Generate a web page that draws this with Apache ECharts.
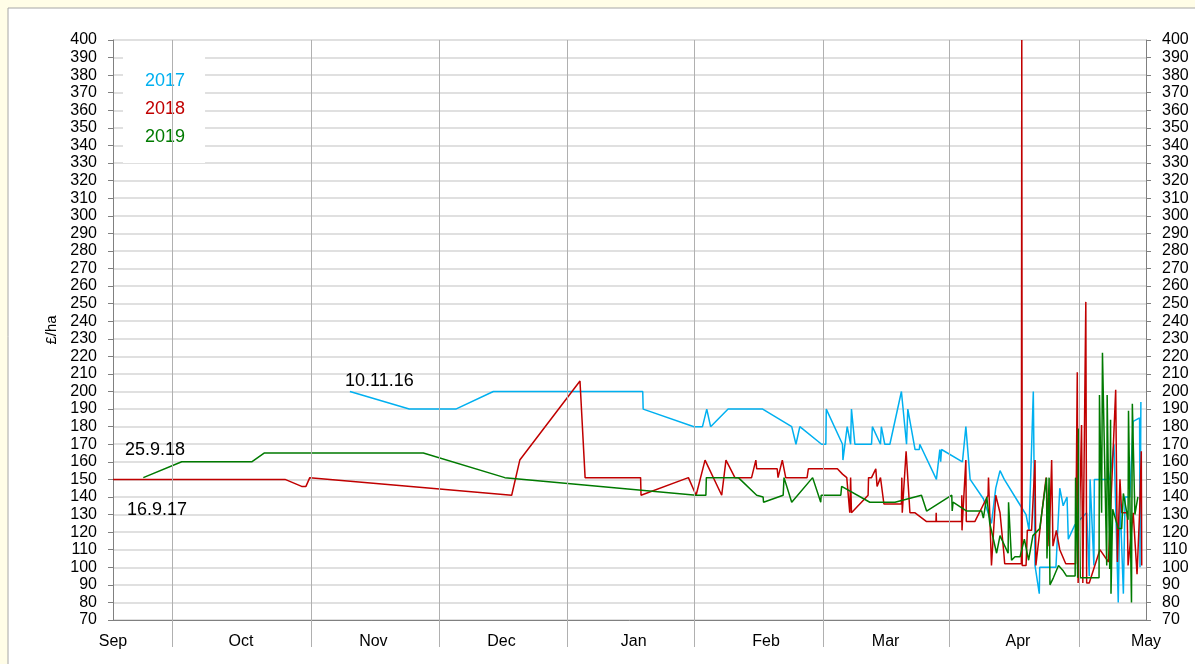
<!DOCTYPE html>
<html><head><meta charset="utf-8">
<script src="https://cdn.jsdelivr.net/npm/echarts@6/dist/echarts.min.js"></script>
<style>html,body{margin:0;padding:0;background:#fffde7}#c{width:1195px;height:664px}</style>
</head><body><div id="c"></div>
<script>
// x = days since 1 September, y = £/ha
const monthNames = ['Sep','Oct','Nov','Dec','Jan','Feb','Mar','Apr','May'];
const monthStartDays = [0,30,61,91,122,153,181,212,242];
const gridDays = [13.8,46.5,76.5,106.3,136.1,166.3,195.8,226.3];
const seriesNames = ['2017','2018','2019'];
const annotations = ['10.11.16','25.9.18','16.9.17'];

const data2017 = [[55.5,200],[69.4,190],[80.3,190],[89.1,200],[124.1,200],[124.2,190],[136.1,180],[138.1,180],[139.1,190],[140.0,180],[144.1,190],[152.2,190],[159.0,180],[160.0,170],[160.9,180],[166.0,170],[167.0,170],[167.1,190],[170.9,170],[171.0,161],[172.0,180],[172.8,170],[173.0,190],[173.8,170],[177.7,170],[177.9,180],[179.8,170],[180.0,180],[180.8,170],[182.0,170],[184.7,200],[185.9,170],[186.2,190],[187.9,167],[188.9,167],[189.0,170],[192.9,150],[193.7,167],[193.9,160],[194.1,167],[199.0,160],[199.8,180],[200.8,150],[203.9,139],[205.0,131],[205.8,125],[206.8,145],[207.8,155],[208.8,150],[212.1,137],[213.9,130],[214.6,121],[215.6,200],[216.0,101],[217.0,85],[217.1,100],[220.9,100],[221.8,145],[222.6,135],[223.5,140],[223.8,116],[225.3,124],[226.5,127],[228.1,131],[228.7,95],[228.9,150],[229.8,101],[229.9,150],[233.5,150],[234.5,170],[235.5,80],[235.9,140],[236.7,85],[237.1,140],[238.2,140],[239.0,183],[240.5,185],[240.6,100],[240.8,194]];

const data2018 = [[0,150],[40.3,150],[44.2,146],[45.2,146],[46.1,151],[93.4,141],[95.3,161],[109.4,206],[110.6,151],[123.6,151],[123.7,141],[134.8,151],[136.6,141],[138.7,161],[142.6,141],[143.6,161],[145.7,151],[149.6,151],[150.6,161],[150.8,156],[155.6,156],[155.8,151],[156.8,161],[157.6,151],[162.6,151],[162.9,156],[169.7,156],[170.9,153],[171.9,151],[172.6,131],[172.8,151],[173.0,131],[176.9,141],[177.0,151],[177.7,151],[178.7,156],[179.0,146],[179.8,151],[180.6,136],[184.7,136],[184.8,151],[184.9,131],[185.8,166],[186.7,131],[187.9,131],[190.6,126],[192.8,126],[192.85,131],[192.9,126],[198.8,126],[198.85,141],[198.9,121],[199.0,126],[199.8,161],[199.9,126],[201.9,126],[205.0,141],[205.1,151],[205.8,101],[206.8,141],[207.8,131],[208.7,108],[208.9,102],[211.8,102],[212.8,102],[212.9,400],[213.0,101],[213.9,101],[214.2,121],[215.2,121],[216.0,161],[216.2,101],[217.6,131],[218.6,151],[219.3,112],[219.9,161],[220.2,112],[221.0,121],[221.8,110],[223.2,102],[225.5,102],[225.9,211],[226.1,91],[226.9,181],[227.2,91],[227.9,251],[228.1,91],[228.7,91],[231.2,110],[233.2,103],[234.9,201],[235.3,103],[235.9,150],[236.3,131],[237.6,131],[237.8,101],[239.0,131],[239.9,96],[240.5,131],[240.9,166],[241.0,101]];

const data2019 = [[7.1,151],[16.1,160],[32.5,160],[35.4,165],[72.7,165],[91.8,151],[136.6,141],[138.9,141],[139.0,151],[146.5,151],[150.8,141],[152.3,140],[152.4,137],[157.0,141],[157.2,151],[159.0,137],[163.9,151],[165.8,137],[165.9,141],[170.5,141],[170.7,146],[177.3,137],[183.2,137],[189.4,141],[190.6,132],[196.5,141],[196.6,132],[196.8,137],[200.0,132],[203.5,132],[203.9,128],[204.7,140],[205.4,125],[207.0,108],[207.8,118],[209.7,108],[209.8,137],[210.5,104],[211.3,106],[212.5,106],[213.5,116],[214.5,104],[215.5,118],[217.1,122],[218.7,151],[218.8,105],[219.3,151],[219.5,90],[220.3,94],[221.5,101],[222.6,98],[223.4,95],[225.4,95],[225.5,151],[226.0,94],[226.2,179],[226.6,94],[227.4,94],[231.0,94],[231.1,198],[231.6,131],[231.8,222],[232.8,101],[232.9,198],[233.5,99],[233.7,184],[233.8,85],[234.2,133],[235.5,122],[236.3,122],[236.7,142],[237.8,127],[237.9,189],[238.6,80],[238.8,193],[239.4,130],[240.1,140]];

const colors = ['#00b0f0','#c00000','#007a00'];
const FONT = 'Liberation Sans, Arial, sans-serif';
const axisLabelStyle = {fontFamily: FONT, fontSize: 16, color: '#000'};

const chart = echarts.init(document.getElementById('c'), null, {renderer: 'canvas'});
const lineSeries = (name, data, color) => ({
  name, type: 'line', data, showSymbol: false, symbol: 'none', z: 3,
  lineStyle: {color, width: 1.5}, itemStyle: {color}, animation: false
});
const yAxisBase = (pos) => ({
  type: 'value', min: 70, max: 400, interval: 10, position: pos,
  axisLine: {show: true, lineStyle: {color: '#808080', width: 1}},
  axisTick: {show: true, length: 5, lineStyle: {color: '#808080'}},
  axisLabel: Object.assign({margin: 16}, axisLabelStyle)
});
const yLeft = Object.assign(yAxisBase('left'), {
  name: '£/ha', nameLocation: 'middle', nameGap: 46,
  nameTextStyle: {fontFamily: FONT, fontSize: 15, color: '#000'},
  splitLine: {show: true, lineStyle: {color: '#e0e0e0', width: 2}}
});
const yRight = Object.assign(yAxisBase('right'), {splitLine: {show: false}});

chart.setOption({
  backgroundColor: '#fffde7',
  animation: false,
  graphic: [
    {type: 'rect', z: -100, shape: {x: 8, y: 8, width: 1200, height: 700}, style: {fill: '#ffffff', stroke: '#a6a6a6', lineWidth: 1}},
    {type: 'text', left: 345, top: 372, z: 10, style: {text: annotations[0], font: '18px ' + FONT, fill: '#000'}},
    {type: 'text', left: 125, top: 441, z: 10, style: {text: annotations[1], font: '18px ' + FONT, fill: '#000'}},
    {type: 'text', left: 127, top: 501, z: 10, style: {text: annotations[2], font: '18px ' + FONT, fill: '#000'}}
  ],
  grid: {left: 113, right: 49, top: 40, bottom: 44, containLabel: false},
  legend: {
    orient: 'vertical', left: 123, top: 57, backgroundColor: '#fff',
    padding: [15, 20, 16, 17], itemWidth: 0, itemHeight: 0, itemGap: 9,
    selectedMode: false,
    textStyle: {fontFamily: FONT, fontSize: 18, lineHeight: 19},
    data: seriesNames.map((n, i) => ({name: n, icon: 'rect', textStyle: {color: colors[i]}}))
  },
  xAxis: {
    type: 'value', min: 0, max: 242,
    axisLine: {show: true, lineStyle: {color: '#808080'}},
    axisTick: {show: true, customValues: gridDays, length: 27, lineStyle: {color: '#b0b0b0'}},
    axisLabel: Object.assign({customValues: monthStartDays, margin: 14,
      formatter: v => monthNames[monthStartDays.indexOf(v)] || ''}, axisLabelStyle),
    splitLine: {show: false}
  },
  yAxis: [yLeft, yRight],
  series: [
    {type: 'line', name: 'grid', data: [], z: 1, silent: true,
     markLine: {silent: true, symbol: ['none','none'], label: {show: false},
       lineStyle: {color: '#b0b0b0', type: 'solid', width: 1},
       emphasis: {disabled: true},
       data: gridDays.map(d => ({xAxis: d}))}},
    lineSeries(seriesNames[0], data2017, colors[0]),
    lineSeries(seriesNames[1], data2018, colors[1]),
    lineSeries(seriesNames[2], data2019, colors[2])
  ]
});
</script></body></html>
